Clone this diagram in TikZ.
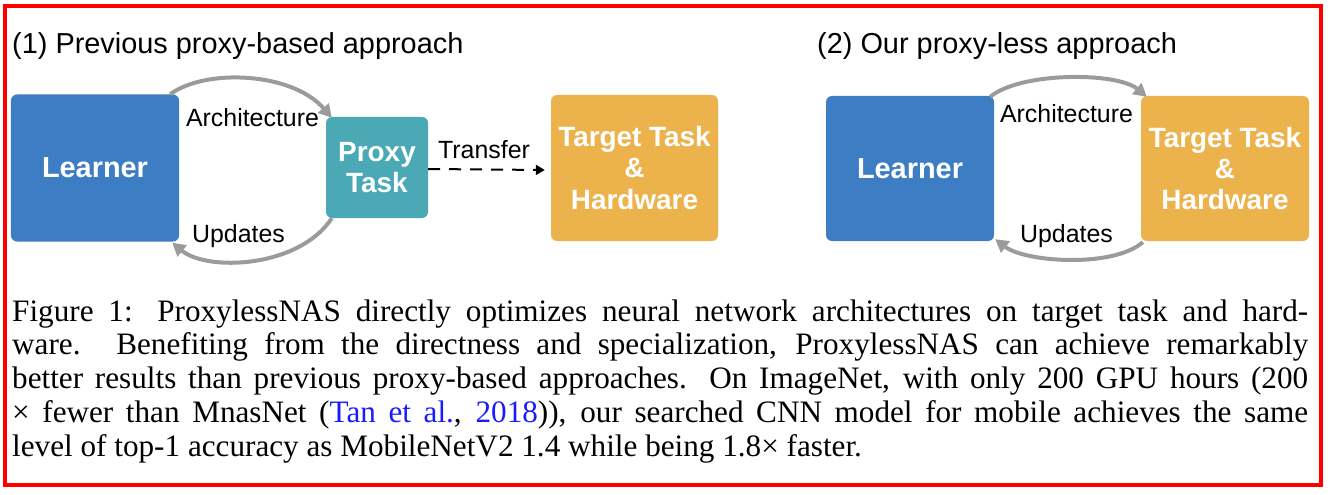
\documentclass[tikz,border=0pt]{standalone}
\usepackage{fontspec}
\setmainfont{Liberation Sans}
\newfontfamily\capfont{Liberation Serif}
\usetikzlibrary{arrows.meta}
\definecolor{lblue}{HTML}{3C7DC4}
\definecolor{pteal}{HTML}{4BA8B5}
\definecolor{torange}{HTML}{ECB34C}
\definecolor{arcgray}{HTML}{9B9B9B}
\definecolor{frame}{HTML}{FF0000}
\definecolor{citeblue}{HTML}{1A1AFF}
\begin{document}
\begin{tikzpicture}[x=1bp,y=-1bp,
  box/.style={rounded corners=6bp, inner sep=0pt, text=white, align=center,
    font=\fontsize{28}{31.5}\selectfont\bfseries},
  title/.style={anchor=base west, inner sep=0pt, font=\fontsize{29}{34}\selectfont},
  lbl/.style={anchor=base, inner sep=0pt, font=\fontsize{25}{30}\selectfont},
  loop/.style={draw=arcgray, line width=4bp, -{Triangle[length=13bp,width=14bp]}},
  transfer/.style={draw=black, line width=2bp, dash pattern=on 12bp off 9bp,
    -{Triangle[length=9bp,width=10bp]}}]
\useasboundingbox (0,0) rectangle (1332,495);
\draw[frame, line width=4bp] (5,6) rectangle (1321,485);

\node[title] (t1) at (12,54) {(1) Previous proxy-based approach};
\node[title] (t2) at (817,54) {(2) Our proxy-less approach};

% left diagram
\node[box, fill=lblue, minimum width=168bp, minimum height=147bp,
  font=\fontsize{29}{32}\selectfont\bfseries] (L1) at (95,168) {Learner};
\node[box, fill=pteal, minimum width=102bp, minimum height=101bp] (P) at (377,167.5) {Proxy\\Task};
\node[box, fill=torange, minimum width=167bp, minimum height=146bp] (T1) at (634.5,168) {Target Task\\\&\\Hardware};

\draw[loop] ([xshift=-9bp]L1.north east) .. controls +(35,-26) and +(-40,-46) .. ([xshift=6bp,yshift=-1bp]P.north west);
\draw[loop] ([xshift=6bp]P.south west) .. controls +(-33,50) and +(35,29) .. ([xshift=-7bp,yshift=-1bp]L1.south east);
\draw[transfer] ([yshift=-1.5bp]P.east) -- ([xshift=-6bp,yshift=-2bp]T1.west);

\node[lbl] (a1) at (252.5,127) {Architecture};
\node[lbl] (u1) at (238.5,243) {Updates};
\node[lbl] (tr) at (484,159) {Transfer};

% right diagram
\node[box, fill=lblue, minimum width=168bp, minimum height=145bp,
  font=\fontsize{29}{32}\selectfont\bfseries] (L2) at (910,168.5) {Learner};
\node[box, fill=torange, minimum width=168bp, minimum height=145bp] (T2) at (1225,168.5) {Target Task\\\&\\Hardware};

\draw[loop] ([xshift=-4bp,yshift=-1bp]L2.north east) .. controls +(30,-25) and +(-30,-25) .. ([xshift=6bp,yshift=-1bp]T2.north west);
\draw[loop] ([xshift=2bp,yshift=-1bp]T2.south west) .. controls +(-30,26) and +(30,23) .. ([xshift=1bp,yshift=2bp]L2.south east);

\node[lbl] (a2) at (1066.5,123) {Architecture};
\node[lbl] (u2) at (1066.5,243) {Updates};

% caption
\node[anchor=base west, inner sep=0pt] (cap) at (12,321) {\parbox[t]{1296bp}{%
\capfont\fontsize{31.3}{34}\selectfont\tolerance=9999\emergencystretch=50bp\hyphenpenalty=10000
Figure 1: ProxylessNAS directly optimizes neural network architectures on target task and hard-\linebreak
ware.  Benefiting from the directness and specialization, ProxylessNAS can achieve remarkably\linebreak
better results than previous proxy-based approaches. On ImageNet, with only 200 GPU hours (200\linebreak
× fewer than MnasNet ({\color{citeblue}Tan et al.}, {\color{citeblue}2018})), our searched CNN model for mobile achieves the same\linebreak
level of top-1 accuracy as MobileNetV2 1.4 while being 1.8× faster.}};
\end{tikzpicture}
\end{document}
